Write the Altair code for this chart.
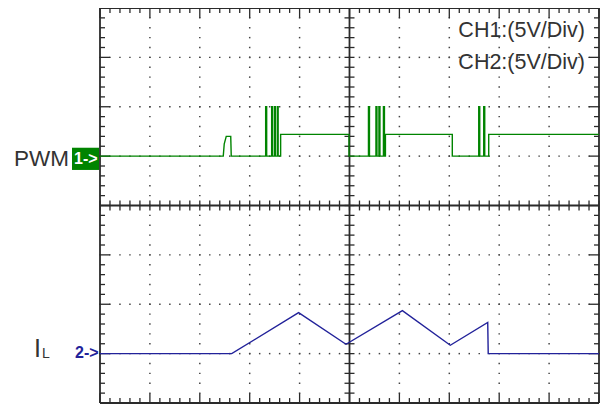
import altair as alt
import pandas as pd

# ---------------- data (oscilloscope divisions) ----------------
# CH1 (PWM), x in divisions (0..10), y in divisions (-4..4)
pwm_t = [0.00, 2.47, 2.49, 2.53, 2.62, 2.63,
         3.32, 3.32, 3.34, 3.34, 3.44, 3.44, 3.46, 3.46, 3.50, 3.50, 3.52, 3.52,
         3.56, 3.56, 3.57, 3.57, 3.62, 3.62,
         4.99, 4.99,
         5.38, 5.38, 5.40, 5.40, 5.53, 5.53, 5.55, 5.55, 5.59, 5.59, 5.61, 5.61,
         5.68, 5.68, 5.70, 5.70, 5.72, 5.72,
         7.06, 7.06,
         7.59, 7.59, 7.61, 7.61, 7.69, 7.69, 7.71, 7.71, 7.79, 7.79,
         10.00]
pwm_v = [1.00, 1.00, 1.25, 1.40, 1.40, 1.00,
         1.00, 2.00, 2.00, 1.00, 1.00, 2.00, 2.00, 1.00, 1.00, 2.00, 2.00, 1.00,
         1.00, 2.00, 2.00, 1.00, 1.00, 1.44,
         1.44, 1.00,
         1.00, 2.00, 2.00, 1.00, 1.00, 2.00, 2.00, 1.00, 1.00, 2.00, 2.00, 1.00,
         1.00, 2.00, 2.00, 1.00, 1.00, 1.44,
         1.44, 1.00,
         1.00, 2.00, 2.00, 1.00, 1.00, 2.00, 2.00, 1.00, 1.00, 1.44,
         1.44]

# CH2 (inductor current)
il_t = [0.00, 2.64, 3.98, 4.93, 6.06, 7.02, 7.77, 7.78, 10.00]
il_v = [-3.00, -3.00, -2.17, -2.81, -2.13, -2.83, -2.37, -3.00, -3.00]

ch_labels = ["CH1:(5V/Div)", "CH2:(5V/Div)"]

# ---------------- graticule ----------------
X_DIV, Y_MIN, Y_MAX = 10, -4, 4
dots = []
for j in range(Y_MIN + 1, Y_MAX):
    if j == 0:
        continue
    for i in range(0, 51):
        dots.append({"x": i * 0.2, "y": j})
for i in range(1, X_DIV):
    if i == 5:
        continue
    for k in range(0, 41):
        dots.append({"x": i, "y": Y_MIN + k * 0.2})
dots_df = pd.DataFrame(dots)

frame = [
    {"x": 0, "x2": 10, "y": 4, "y2": 4},
    {"x": 0, "x2": 10, "y": -4, "y2": -4},
    {"x": 0, "x2": 0, "y": -4, "y2": 4},
    {"x": 10, "x2": 10, "y": -4, "y2": 4},
    {"x": 5, "x2": 5, "y": -4, "y2": 4},
    {"x": 0, "x2": 10, "y": 0, "y2": 0},
]
frame_df = pd.DataFrame(frame)

ticks = []
for i in range(0, 51):
    xv = i * 0.2
    major = (i % 5 == 0)
    ln = 0.2 if major else 0.1
    ticks.append({"x": xv, "x2": xv, "y": 4, "y2": 4 - ln})
    ticks.append({"x": xv, "x2": xv, "y": -4, "y2": -4 + ln})
    ticks.append({"x": xv, "x2": xv, "y": -0.1, "y2": 0.1})
for k in range(0, 41):
    yv = Y_MIN + k * 0.2
    major = (k % 5 == 0)
    ln = 0.2 if major else 0.1
    ticks.append({"x": 0, "x2": ln, "y": yv, "y2": yv})
    ticks.append({"x": 10, "x2": 10 - ln, "y": yv, "y2": yv})
    ticks.append({"x": 4.9, "x2": 5.1, "y": yv, "y2": yv})
ticks_df = pd.DataFrame(ticks)

pwm_df = pd.DataFrame({"t": pwm_t, "v": pwm_v, "o": range(len(pwm_t))})
il_df = pd.DataFrame({"t": il_t, "v": il_v, "o": range(len(il_t))})

xs = alt.Scale(domain=[0, 10], nice=False, zero=False)
ys = alt.Scale(domain=[-4, 4], nice=False, zero=False)
GRID = "#2a2a2a"
GREEN = "#008400"
BLUE = "#22229a"
FONT = "Liberation Sans"

dots_layer = alt.Chart(dots_df).mark_square(size=2.2, color="#444", opacity=1).encode(
    x=alt.X("x:Q", scale=xs, axis=None), y=alt.Y("y:Q", scale=ys, axis=None))

frame_layer = alt.Chart(frame_df).mark_rule(color=GRID, strokeWidth=1.8).encode(
    x=alt.X("x:Q", scale=xs, axis=None), x2="x2:Q",
    y=alt.Y("y:Q", scale=ys, axis=None), y2="y2:Q")

ticks_layer = alt.Chart(ticks_df).mark_rule(color=GRID, strokeWidth=1.3).encode(
    x=alt.X("x:Q", scale=xs, axis=None), x2="x2:Q",
    y=alt.Y("y:Q", scale=ys, axis=None), y2="y2:Q")

pwm_layer = alt.Chart(pwm_df).mark_line(color=GREEN, strokeWidth=1.4, interpolate="linear").encode(
    x=alt.X("t:Q", scale=xs, axis=None), y=alt.Y("v:Q", scale=ys, axis=None), order="o:Q")

il_layer = alt.Chart(il_df).mark_line(color=BLUE, strokeWidth=1.4).encode(
    x=alt.X("t:Q", scale=xs, axis=None), y=alt.Y("v:Q", scale=ys, axis=None), order="o:Q")

box = alt.Chart(pd.DataFrame({"y": [1.17], "y2": [0.72]})).mark_rect(color=GREEN).encode(
    x=alt.value(-28), x2=alt.value(-1),
    y=alt.Y("y:Q", scale=ys, axis=None), y2="y2:Q")

def label(txt, x, yv, size, color, align="left", weight="normal"):
    return alt.Chart(pd.DataFrame({"t": [txt], "y": [yv]})).mark_text(
        font=FONT, fontSize=size, color=color, align=align, baseline="alphabetic",
        fontWeight=weight).encode(text="t:N", x=alt.value(x),
                                  y=alt.Y("y:Q", scale=ys, axis=None))

ch1_lbl = label(ch_labels[0], 485, 3.42, 21.5, "#333", align="right")
ch2_lbl = label(ch_labels[1], 485, 2.77, 21.5, "#333", align="right")
pwm_lbl = label("PWM", -31, 0.80, 22.5, "#333", align="right")
one_lbl = label("1->", -26, 0.84, 16, "white", weight="bold")
il_I = label("I", -66, -3.06, 25, "#333")
il_L = label("L", -58, -3.09, 14, "#333")
two_lbl = label("2->", -25, -3.09, 16, BLUE, weight="bold")

chart = alt.layer(
    dots_layer, ticks_layer, frame_layer, pwm_layer, il_layer,
    ch1_lbl, ch2_lbl, box, pwm_lbl, one_lbl, il_I, il_L, two_lbl
).properties(
    width=499, height=395,
    autosize=alt.AutoSizeParams(type="none"),
    padding={"left": 92, "top": 0, "right": 1, "bottom": 1},
    background="white",
).configure_view(strokeWidth=0)

chart.save("out.html", embed_options={"renderer": "svg", "actions": False})
